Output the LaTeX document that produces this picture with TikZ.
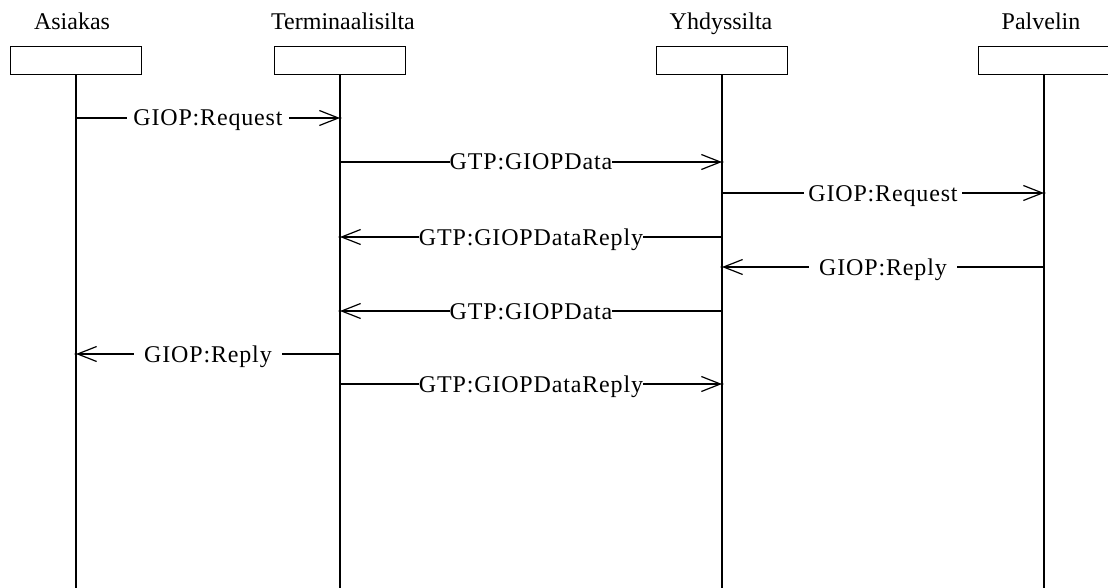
\documentclass[tikz,border=0pt]{standalone}
\usepackage{fontspec}
\setmainfont{Liberation Serif}
\newfontfamily\msgfont[LetterSpace=3.5]{Liberation Serif}
\usetikzlibrary{arrows.meta}
\begin{document}
\begin{tikzpicture}[x=1pt,y=-1pt,
  lifebox/.style={draw,line width=1.3pt,minimum width=131pt,minimum height=28pt,inner sep=0pt,anchor=north},
  actor/.style={font=\fontsize{24}{26}\selectfont,anchor=base,inner sep=0pt},
  life/.style={line width=1.3pt},
  msg/.style={line width=1.3pt,-{Straight Barb[length=19pt,width=15pt,line width=1.2pt]}},
  lbl/.style={fill=white,font=\msgfont\fontsize{24}{26}\selectfont,inner ysep=1pt,text height=16pt,text depth=0pt,anchor=center},
  gapS/.style={lbl,inner xsep=4pt},
  gapM/.style={lbl,inner xsep=6pt},
  gapL/.style={lbl,inner xsep=10pt},
  tight/.style={lbl,inner xsep=0pt},
  tipdot/.style={fill=black}
]
\useasboundingbox (0,0) rectangle (1108,588);

% participants
\node[lifebox] (boxA) at (76,46) {};
\node[lifebox] (boxT) at (340,46) {};
\node[lifebox] (boxY) at (722,46) {};
\node[lifebox] (boxP) at (1044,46) {};

\node[actor] (nA) at (72,30) {Asiakas};
\node[actor] (nT) at (343,30) {Terminaalisilta};
\node[actor] (nY) at (721,30) {Yhdyssilta};
\node[actor] (nP) at (1041,30) {Palvelin};

% lifelines
\coordinate (endA) at (76,590);
\coordinate (endT) at (340,590);
\coordinate (endY) at (722,590);
\coordinate (endP) at (1044,590);
\draw[life] (boxA.south) -- (endA);
\draw[life] (boxT.south) -- (endT);
\draw[life] (boxY.south) -- (endY);
\draw[life] (boxP.south) -- (endP);

% message end points on the lifelines
\coordinate (m1a) at (76,118);   \coordinate (m1b) at (340,118);
\coordinate (m2a) at (340,162);  \coordinate (m2b) at (722,162);
\coordinate (m3a) at (722,193);  \coordinate (m3b) at (1044,193);
\coordinate (m4a) at (722,237);  \coordinate (m4b) at (340,237);
\coordinate (m5a) at (1044,267); \coordinate (m5b) at (722,267);
\coordinate (m6a) at (722,311);  \coordinate (m6b) at (340,311);
\coordinate (m7a) at (340,354);  \coordinate (m7b) at (76,354);
\coordinate (m8a) at (340,384);  \coordinate (m8b) at (722,384);

% messages
\draw[msg] (m1a) -- node[gapM] {GIOP:Request} (m1b);
\draw[msg] (m2a) -- node[tight] {GTP:GIOPData} (m2b);
\draw[msg] (m3a) -- node[gapS] {GIOP:Request} (m3b);
\draw[msg] (m4a) -- node[tight] {GTP:GIOPDataReply} (m4b);
\draw[msg] (m5a) -- node[gapL] {GIOP:Reply} (m5b);
\draw[msg] (m6a) -- node[tight] {GTP:GIOPData} (m6b);
\draw[msg] (m7a) -- node[gapL] {GIOP:Reply} (m7b);
\draw[msg] (m8a) -- node[tight] {GTP:GIOPDataReply} (m8b);

% small dots where the arrows meet the lifelines
\foreach \p in {m1b,m2b,m3b,m4b,m5b,m6b,m7b,m8b}
  \fill[tipdot] (\p) circle (1.6);
\end{tikzpicture}
\end{document}
